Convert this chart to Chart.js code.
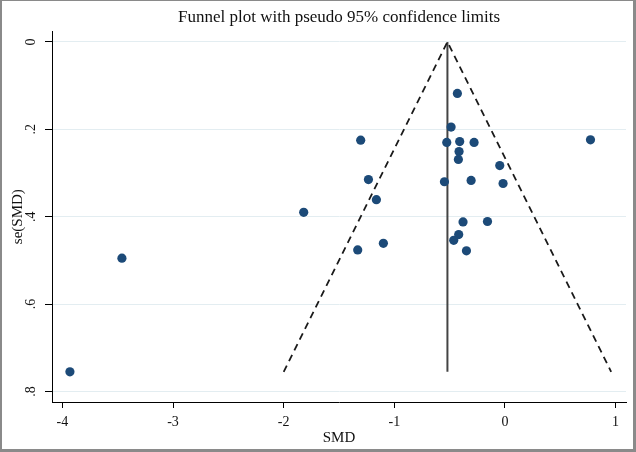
<!DOCTYPE html>
<html>
<head>
<meta charset="utf-8">
<script src="https://cdn.jsdelivr.net/npm/chart.js@4.4.1/dist/chart.umd.min.js"></script>
<style>
    body { margin: 0; background: #fff; }
    #wrap { position: relative; width: 636px; height: 452px; }
    #frame {
        position: absolute; left: 0; top: 0; right: 0; bottom: 0;
        border-style: solid; border-color: #8a8a8a;
        border-width: 1px 3px 3px 2px;
        pointer-events: none;
    }
</style>
</head>
<body>
<div id="wrap">
    <canvas id="funnelChart" width="636" height="452"></canvas>
    <div id="frame"></div>
</div>
<script>
// Estudios: diferencia de medias estandarizada (SMD) y su error estándar
const smd = [-0.430, -0.487, -1.304, -0.526, -0.409, -0.279, -0.415, -0.421, -1.234, -0.547,
             -0.306, -1.162, -0.017, -0.379, -0.158, -0.418, -0.463, -0.348, -1.819, -1.331,
             -1.099, -3.462, -3.932, 0.773, -0.047];
const seSmd = [0.118, 0.195, 0.225, 0.230, 0.228, 0.230, 0.251, 0.269, 0.315, 0.320,
               0.317, 0.361, 0.324, 0.412, 0.411, 0.441, 0.454, 0.478, 0.390, 0.476,
               0.461, 0.495, 0.755, 0.224, 0.283];

// Límites del embudo (pseudo 95%)
const funnelX = [-2.00, -0.52, 0.96];
const funnelY = [0.755, 0, 0.755];
const centerX = [-0.52, -0.52];
const centerY = [0, 0.755];

// Ticks de los ejes
const xTickValues = [-4, -3, -2, -1, 0, 1];
const xTickLabels = ["-4", "-3", "-2", "-1", "0", "1"];
const yTickValues = [0, 0.2, 0.4, 0.6, 0.8];
const yTickLabels = ["0", ".2", ".4", ".6", ".8"];

const serif = "'Liberation Serif', 'Times New Roman', serif";

const puntos = smd.map((x, i) => ({ x: x, y: seSmd[i] }));
const embudo = funnelX.map((x, i) => ({ x: x, y: funnelY[i] }));
const centro = centerX.map((x, i) => ({ x: x, y: centerY[i] }));

const ctx = document.getElementById("funnelChart").getContext("2d");

new Chart(ctx, {
    type: "scatter",
    data: {
        datasets: [
            {
                label: "Estudios",
                data: puntos,
                backgroundColor: "#1c4a78",
                borderWidth: 0,
                pointRadius: 4.6,
                pointHoverRadius: 4.6
            },
            {
                label: "Límites 95%",
                data: embudo,
                showLine: true,
                borderColor: "#1a1a1a",
                borderWidth: 1.8,
                borderDash: [7, 5],
                pointRadius: 0,
                fill: false
            },
            {
                label: "SMD combinada",
                data: centro,
                showLine: true,
                borderColor: "#444",
                borderWidth: 2,
                pointRadius: 0,
                fill: false
            }
        ]
    },
    options: {
        responsive: false,
        animation: false,
        events: [],
        layout: { padding: { top: 7, left: 0, right: 10, bottom: 0 } },
        plugins: {
            legend: { display: false },
            tooltip: { enabled: false },
            title: {
                display: true,
                text: "Funnel plot with pseudo 95% confidence limits",
                fullSize: false,
                color: "#111",
                font: { family: serif, size: 17, weight: "normal" },
                padding: { top: 0, bottom: 4 }
            }
        },
        scales: {
            x: {
                type: "linear",
                min: -4.094,
                max: 1.094,
                afterBuildTicks: scale => { scale.ticks = xTickValues.map(v => ({ value: v })); },
                afterFit: scale => { scale.height = 50; },
                grid: { drawOnChartArea: false, drawTicks: true, tickLength: 6, color: "#000" },
                border: { display: true, color: "#000", width: 1 },
                ticks: {
                    padding: 6,
                    color: "#111",
                    font: { family: serif, size: 14 },
                    callback: (v, i) => xTickLabels[i]
                },
                title: {
                    display: true,
                    text: "SMD",
                    color: "#111",
                    font: { family: serif, size: 15 },
                    padding: { top: 0, bottom: 5 }
                }
            },
            y: {
                type: "linear",
                reverse: true,
                min: -0.024,
                max: 0.824,
                afterBuildTicks: scale => { scale.ticks = yTickValues.map(v => ({ value: v })); },
                afterFit: scale => { scale.width = 52; },
                grid: { color: "#e3edf1", lineWidth: 1, drawTicks: true, tickLength: 7, tickColor: "#000" },
                border: { display: true, color: "#000", width: 1 },
                ticks: {
                    minRotation: 90,
                    maxRotation: 90,
                    crossAlign: "center",
                    padding: 8,
                    color: "#111",
                    font: { family: serif, size: 14 },
                    callback: (v, i) => yTickLabels[i]
                },
                title: {
                    display: true,
                    text: "se(SMD)",
                    color: "#111",
                    font: { family: serif, size: 15 },
                    padding: { top: 9, bottom: 0 }
                }
            }
        }
    }
});
</script>
</body>
</html>
